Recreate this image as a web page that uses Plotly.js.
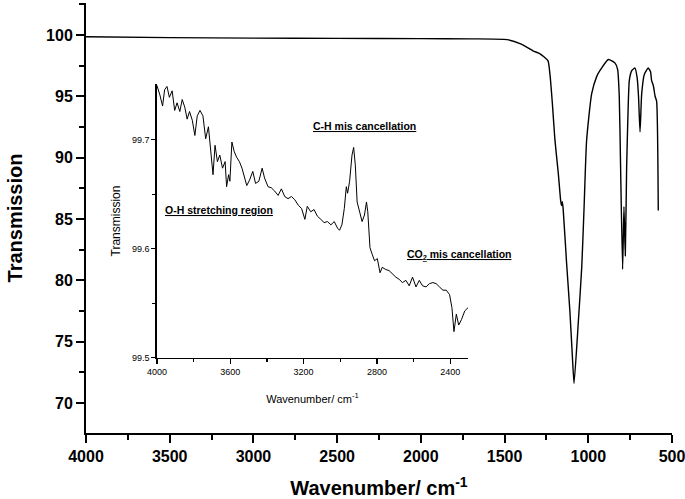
<!DOCTYPE html>
<html>
<head>
<meta charset="utf-8">
<script src="https://cdn.plot.ly/plotly-3.0.1.min.js"></script>
<style>
  html, body { margin: 0; padding: 0; background: #fff; }
  #chart { width: 685px; height: 499px; }
</style>
</head>
<body>
<div id="chart"></div>
<script>
// Full FTIR spectrum (wavenumber in cm-1, transmission)
const mainWn = [4000, 3500, 3000, 2500, 2000, 1700, 1485, 1400, 1330, 1288, 1241, 1229, 1215, 1199, 1179,
    1165, 1160, 1155, 1150, 1130, 1110, 1095, 1085, 1060, 1039, 1025, 1010, 980, 950, 930, 880, 840,
    825, 815, 807, 795, 787, 779, 771, 762, 755, 740, 721, 708, 700, 691, 681, 665, 642, 628, 622,
    612, 601, 592, 582];
const mainT = [99.85, 99.78, 99.74, 99.72, 99.7, 99.68, 99.62, 99.25, 98.7, 98.46, 97.9, 96.8, 94.5, 91.4, 88.7,
    86.5, 86.1, 86.4, 85.8, 81.5, 77.5, 73.8, 71.6, 76.5, 81.1, 86, 91.4, 95.2, 96.6, 97.1, 98.0, 97.7,
    97.2, 95, 89.2, 80.9, 86.0, 82.0, 89.2, 94, 96.3, 97.1, 97.3, 96.5, 95, 92.1, 95.2, 96.8, 97.3, 97.0, 96.3,
    95.9, 95.0, 94.6, 85.7];

// Inset: 4000-2300 cm-1 zoom
const insetWn = [4000, 3985, 3969, 3958, 3945, 3932, 3917, 3903, 3890, 3875, 3862, 3848, 3835, 3822, 3807,
    3793, 3780, 3765, 3749, 3734, 3719, 3706, 3694, 3683, 3670, 3657, 3642, 3628, 3620, 3609, 3602,
    3591, 3578, 3565, 3550, 3536, 3523, 3510, 3495, 3477, 3462, 3444, 3426, 3413, 3394, 3376, 3358,
    3339, 3321, 3303, 3285, 3266, 3248, 3229, 3211, 3193, 3180, 3161, 3143, 3125, 3106, 3088, 3070,
    3051, 3033, 3015, 3004, 2991, 2978, 2967, 2960, 2949, 2936, 2927, 2918, 2908, 2893, 2881, 2868,
    2857, 2850, 2838, 2826, 2813, 2798, 2783, 2771, 2752, 2734, 2716, 2697, 2679, 2661, 2642, 2624,
    2606, 2587, 2569, 2551, 2532, 2514, 2495, 2477, 2459, 2440, 2422, 2404, 2391, 2380, 2367, 2354,
    2339, 2321, 2303];
const insetT = [99.750, 99.742, 99.731, 99.746, 99.749, 99.739, 99.745, 99.727, 99.734, 99.726, 99.737, 99.730,
    99.719, 99.726, 99.718, 99.704, 99.722, 99.727, 99.722, 99.701, 99.712, 99.686, 99.668, 99.695,
    99.680, 99.686, 99.674, 99.680, 99.657, 99.668, 99.662, 99.698, 99.689, 99.684, 99.680, 99.674,
    99.665, 99.658, 99.663, 99.671, 99.660, 99.662, 99.674, 99.665, 99.657, 99.656, 99.653, 99.649,
    99.655, 99.648, 99.646, 99.648, 99.645, 99.640, 99.637, 99.627, 99.639, 99.634, 99.636, 99.630,
    99.627, 99.624, 99.625, 99.622, 99.625, 99.619, 99.617, 99.622, 99.637, 99.657, 99.651, 99.662,
    99.686, 99.693, 99.677, 99.643, 99.633, 99.625, 99.631, 99.643, 99.634, 99.601, 99.595, 99.589,
    99.591, 99.578, 99.583, 99.581, 99.580, 99.577, 99.574, 99.572, 99.569, 99.571, 99.566, 99.574,
    99.565, 99.571, 99.566, 99.565, 99.568, 99.569, 99.568, 99.565, 99.562, 99.562, 99.558, 99.546,
    99.524, 99.540, 99.530, 99.535, 99.543, 99.546];

const boldFont = { family: "Liberation Sans, Arial, sans-serif", color: "black", weight: "bold" };
const insetFamily = "Liberation Sans, Arial, sans-serif";

const traceMain = {
    type: "scatter",
    mode: "lines",
    x: mainWn,
    y: mainT,
    line: { color: "black", width: 1.4, shape: "spline", smoothing: 0.5 },
    xaxis: "x",
    yaxis: "y",
    hoverinfo: "skip"
};

const traceInset = {
    type: "scatter",
    mode: "lines",
    x: insetWn,
    y: insetT,
    line: { color: "black", width: 1 },
    xaxis: "x2",
    yaxis: "y2",
    hoverinfo: "skip"
};

const layout = {
    width: 685,
    height: 499,
    margin: { l: 86, r: 13, t: 3, b: 66 },
    paper_bgcolor: "white",
    plot_bgcolor: "white",
    showlegend: false,
    xaxis: {
        range: [4000, 500],
        tickvals: [4000, 3500, 3000, 2500, 2000, 1500, 1000, 500],
        ticklabeloverflow: "allow",
        ticks: "outside",
        ticklen: 8,
        tickwidth: 2,
        tickcolor: "black",
        minor: { tickvals: [3750, 3250, 2750, 2250, 1750, 1250, 750], ticks: "outside", ticklen: 5, tickwidth: 2, tickcolor: "black" },
        showline: true,
        linewidth: 2,
        linecolor: "black",
        showgrid: false,
        zeroline: false,
        tickfont: Object.assign({ size: 16 }, boldFont),
        title: {
            text: "Wavenumber/ cm<sup>-1</sup>",
            font: Object.assign({ size: 20 }, boldFont),
            standoff: 19
        }
    },
    yaxis: {
        range: [67.56, 102.6],
        tickvals: [70, 75, 80, 85, 90, 95, 100],
        ticks: "outside",
        ticklen: 8,
        tickwidth: 2,
        tickcolor: "black",
        minor: { tickvals: [72.5, 77.5, 82.5, 87.5, 92.5, 97.5, 102.5], ticks: "outside", ticklen: 5, tickwidth: 2, tickcolor: "black" },
        showline: true,
        linewidth: 2,
        linecolor: "black",
        showgrid: false,
        zeroline: false,
        tickfont: Object.assign({ size: 16 }, boldFont),
        title: {
            text: "Transmission",
            font: Object.assign({ size: 20 }, boldFont),
            standoff: 18
        }
    },
    xaxis2: {
        domain: [0.121, 0.652],
        anchor: "y2",
        range: [4000, 2303],
        tickvals: [4000, 3600, 3200, 2800, 2400],
        ticks: "outside",
        ticklen: 5,
        tickwidth: 1.2,
        tickcolor: "black",
        minor: { tickvals: [3800, 3400, 3000, 2600], ticks: "outside", ticklen: 3, tickwidth: 1.2, tickcolor: "black" },
        showline: true,
        linewidth: 1.5,
        linecolor: "black",
        showgrid: false,
        zeroline: false,
        tickfont: { family: insetFamily, size: 9, color: "black" },
        title: {
            text: "Wavenumber/ cm<sup>-1</sup>",
            font: { family: insetFamily, size: 11, color: "black" },
            standoff: 19
        }
    },
    yaxis2: {
        domain: [0.175, 0.811],
        anchor: "x2",
        range: [99.5, 99.751],
        tickvals: [99.5, 99.6, 99.7],
        ticktext: ["99.5", "99.6", "99.7"],
        ticks: "outside",
        ticklen: 4,
        tickwidth: 1.2,
        tickcolor: "black",
        minor: { tickvals: [99.55, 99.65], ticks: "outside", ticklen: 3, tickwidth: 1.2, tickcolor: "black" },
        showline: true,
        linewidth: 1.5,
        linecolor: "black",
        showgrid: false,
        zeroline: false,
        tickfont: { family: insetFamily, size: 9, color: "black" },
        title: {
            text: "Transmission",
            font: { family: insetFamily, size: 12, color: "black" },
            standoff: 9
        }
    },
    annotations: [
        {
            xref: "x2", yref: "y2", x: 2870, y: 99.7127,
            text: "<u>C-H mis cancellation</u>",
            showarrow: false,
            font: { family: insetFamily, size: 10.5, color: "black", weight: "bold" }
        },
        {
            xref: "x2", yref: "y2", x: 3662, y: 99.6355,
            text: "<u>O-H stretching region</u>",
            showarrow: false,
            font: { family: insetFamily, size: 10.5, color: "black", weight: "bold" }
        },
        {
            xref: "x2", yref: "y2", x: 2352, y: 99.5945,
            text: "<u>CO<sub>2</sub> mis cancellation</u>",
            showarrow: false,
            font: { family: insetFamily, size: 10.5, color: "black", weight: "bold" }
        }
    ]
};

Plotly.newPlot("chart", [traceMain, traceInset], layout, { displayModeBar: false, staticPlot: true });
</script>
</body>
</html>
